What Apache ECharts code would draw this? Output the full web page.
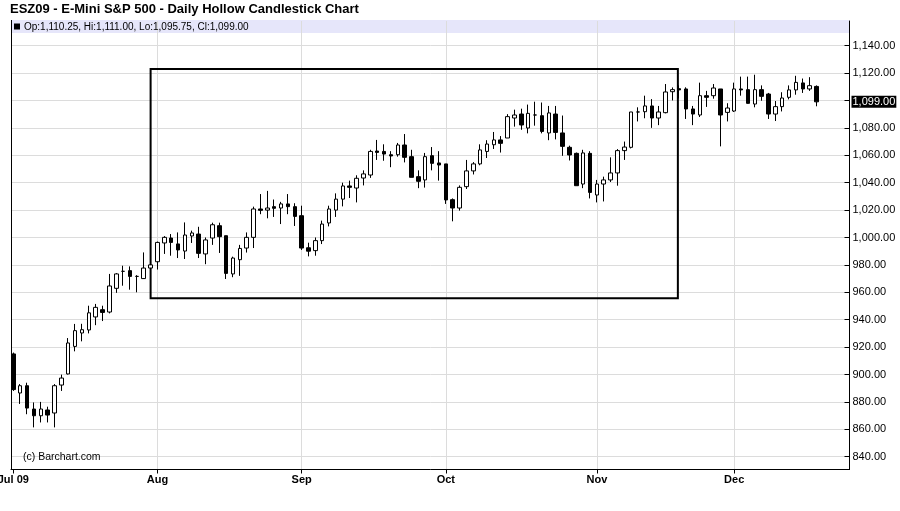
<!DOCTYPE html>
<html><head><meta charset="utf-8">
<script src="https://cdn.jsdelivr.net/npm/echarts@6/dist/echarts.min.js"></script>
<style>html,body{margin:0;padding:0;background:#fff}#c{width:900px;height:511px}</style>
</head><body><div id="c"></div>
<script>
const dates = [
 '07-02','07-06','07-07','07-08','07-09','07-10','07-13','07-14','07-15','07-16','07-17','07-20','07-21','07-22','07-23','07-24','07-27','07-28','07-29','07-30','07-31',
 '08-03','08-04','08-05','08-06','08-07','08-10','08-11','08-12','08-13','08-14','08-17','08-18','08-19','08-20','08-21','08-24','08-25','08-26','08-27','08-28','08-31',
 '09-01','09-02','09-03','09-04','09-08','09-09','09-10','09-11','09-14','09-15','09-16','09-17','09-18','09-21','09-22','09-23','09-24','09-25','09-28','09-29','09-30',
 '10-01','10-02','10-05','10-06','10-07','10-08','10-09','10-12','10-13','10-14','10-15','10-16','10-19','10-20','10-21','10-22','10-23','10-26','10-27','10-28','10-29','10-30',
 '11-02','11-03','11-04','11-05','11-06','11-09','11-10','11-11','11-12','11-13','11-16','11-17','11-18','11-19','11-20','11-23','11-24','11-25','11-27','11-30',
 '12-01','12-02','12-03','12-04','12-07','12-08','12-09','12-10','12-11','12-14','12-15','12-16','12-17'
];
const opens = [
 915,886.5,891.8,874.8,869.9,874.1,871.9,892.3,900.4,920.5,
 930.3,932.5,942,947.3,945.6,962.9,975.3,975.8,971.6,970,
 977.7,982.3,996,999.6,995.3,990.1,1001.1,1002.5,988,999.6,
 1008.6,1001.3,973.4,983.8,992.3,1000.1,1020.8,1020,1022.5,1021.5,
 1024.5,1022.5,1015.9,992.5,990.4,997.7,1010.6,1020,1028,1037.6,
 1036.1,1043.4,1045.6,1063.1,1062.8,1060.4,1060.4,1067.5,1059,1044.4,
 1042,1059.7,1054.4,1053.7,1027.6,1021.5,1037.1,1048.6,1053.7,1062.8,
 1067.7,1071.2,1072.6,1087.2,1090.1,1079.9,1089.4,1088.9,1076.3,1090.1,
 1076.3,1065.8,1061.4,1039,1061.4,1031,1039,1042,1047.1,1063.4,
 1065.8,1091.6,1091.8,1096,1087.2,1091.1,1106.4,1108.6,1108.4,1093.8,
 1089.4,1103.5,1103.5,1108.4,1091.3,1092.3,1108.4,1107.9,1097.4,1107.9,
 1104.7,1090.1,1095.5,1102.3,1107.7,1112.8,1108.4,1110.25
];
const closes = [
 889,891.8,875.5,869.9,874.8,870.4,891.8,897.4,923,932,
 932.7,945,949,945.3,964.6,973.4,975.3,971.6,971.6,977.7,
 980,996.4,1000.1,996.4,990.9,1001.8,1003.3,988.4,998.2,1009.3,
 1000.6,973.8,985,992,1000.1,1020.8,1019.8,1021.5,1021.3,1024.5,
 1022.5,1015.4,992.3,990,997.7,1009.8,1020.8,1028,1037.6,1036.6,
 1043.2,1046.4,1062.8,1062.1,1060.9,1059.5,1067.5,1058.5,1043.9,1041,
 1059,1054.1,1052.9,1027.4,1021.5,1036.6,1048.6,1053.7,1063.9,1068.2,
 1071.2,1068.7,1088.2,1089.4,1082.1,1090.6,1089.4,1077.4,1090.9,1076.7,
 1066.5,1060.2,1037.8,1061.7,1032.9,1039,1042,1047.1,1063.4,1066,
 1091.6,1091.6,1096,1087.2,1091.6,1106.2,1107.9,1107.7,1093.8,1090.1,
 1103.5,1102.3,1109.1,1089.4,1094.5,1108.4,1107.7,1097.9,1107.9,1103,
 1090.1,1095.5,1101.8,1107.7,1113.2,1108.4,1110.8,1099
];
const lows = [
 888,878.5,871,861.4,865,865,861.4,888,900,916.9,
 924.2,930,936,939,944.6,959.6,964.8,961.9,960,969.7,
 977,976.6,988,986.7,985,984.3,996,985,980.5,994.6,
 988.7,969.7,971,972,989,992.3,1017,1014,1015,1009.8,
 1017,1008.4,990.9,986.2,986.7,995.2,1008.1,1015,1022.7,1028.8,
 1025.6,1038,1043.5,1056.6,1056,1051.3,1059,1054.8,1043.9,1036,
 1036.4,1049,1041.5,1024.5,1011.8,1019.6,1035.4,1046,1052.7,1058,
 1064.6,1062,1072.6,1080.9,1078.6,1076,1081.6,1076,1071,1071.6,
 1059.6,1056.2,1037.8,1036,1028.5,1025.6,1026.3,1040.5,1037.8,1056.6,
 1065,1084.7,1087,1080,1082,1090.6,1100,1101.5,1086.5,1082,
 1087.9,1095.3,1101.3,1066.5,1084.7,1091.6,1103.5,1097.7,1095,1099.8,
 1086.5,1085,1092,1100.8,1104.2,1105.5,1107,1095.75
];
const highs = [
 916,893,894,879.6,880,876.5,893,899.9,926.6,936.9,
 937,950.2,951.5,950.2,973.4,974,979.4,978.9,972.5,989.1,
 980.5,997,1001,1002.5,1003.7,1011,1005,1007.8,1000,1010.8,
 1010.8,1001.3,986,994.6,1003.7,1022.5,1031.7,1034,1027.7,1026,
 1031.7,1025,1023.2,996.2,1000,1012.3,1023.2,1032.2,1040,1041.5,
 1045.4,1049,1064,1071.2,1068,1063,1069,1075.5,1064,1049,
 1061.7,1066,1063,1053.7,1028.5,1038,1056.6,1055,1068,1071,
 1077,1074,1090,1093.3,1094,1097,1099.1,1098.5,1096,1096,
 1089,1067,1062,1064,1063,1042,1044.4,1058.5,1064.5,1070,
 1091.6,1095,1103.5,1101,1096,1112,1109.5,1111,1109.6,1096,
 1113,1107,1112,1108.4,1098,1113,1117.4,1117.4,1118.8,1111,
 1105.5,1099.6,1106,1111,1118,1116,1117,1111
];
const yTicks = [840,860,880,900,920,940,960,980,1000,1020,1040,1060,1080,1100,1120,1140];
const monthLabels = {'07':'Jul 09','08':'Aug','09':'Sep','10':'Oct','11':'Nov','12':'Dec'};
const box = {x0: 20, x1: 96.8, y0: 955.6, y1: 1123};
const titleText = 'ESZ09 - E-Mini S&P 500 - Daily Hollow Candlestick Chart';
const creditText = '(c) Barchart.com';

function fmt(v){ return v.toFixed(2).replace(/\B(?=(\d{3})+(?!\d))/g, ','); }

const candleData = dates.map((d,i)=>[i, opens[i], closes[i], lows[i], highs[i]]);
const monthStarts = [];
dates.forEach((d,i)=>{ if(i===0 || d.slice(0,2)!==dates[i-1].slice(0,2)) monthStarts.push(i); });
const labelOf = {};
monthStarts.forEach(i=>{ labelOf[i] = monthLabels[dates[i].slice(0,2)]; });
const n = dates.length;
const lastO = opens[n-1], lastH = highs[n-1], lastL = lows[n-1], lastC = closes[n-1];
const yLabelVals = yTicks.filter(v => Math.abs(v - lastC) > 6);
const yMin = 830.66, yMax = 1158;
const FONT = '"Liberation Sans", Arial, sans-serif';

const chart = echarts.init(document.getElementById('c'), null, {renderer:'canvas'});
chart.setOption({
  animation: false,
  backgroundColor: '#fff',
  grid: {left: 11, right: 50.5, top: 21, bottom: 41.5, containLabel: false, outerBoundsMode: 'none'},
  xAxis: {
    type: 'value', min: -0.335, max: 121.8,
    axisLine: {show: true, onZero: false, lineStyle: {color: '#000', width: 1}},
    axisTick: {show: true, customValues: monthStarts, length: 4, lineStyle: {color: '#000'}},
    axisLabel: {customValues: monthStarts, formatter: v => labelOf[Math.round(v)] || '', color: '#000', fontWeight: 'bold', fontSize: 11, fontFamily: FONT, margin: 5, hideOverlap: false},
    splitLine: {show: true, lineStyle: {color: monthStarts.map((m,i)=> i===0 ? 'rgba(0,0,0,0)' : '#dcdcdc'), width: 1}}
  },
  yAxis: {
    type: 'value', position: 'right', min: yMin, max: yMax,
    axisLine: {show: true, onZero: false, lineStyle: {color: '#000', width: 1}},
    axisTick: {show: true, inside: true, length: 5, customValues: yTicks, lineStyle: {color: '#000'}},
    axisLabel: {customValues: yLabelVals, formatter: v => fmt(v), margin: 3, fontSize: 11, color: '#000', fontFamily: FONT},
    splitLine: {show: true, lineStyle: {color: '#dcdcdc', width: 1}}
  },
  series: [{
    type: 'candlestick',
    data: candleData,
    encode: {x: 0, y: [1,2,3,4]},
    barWidth: 4,
    clip: false,
    itemStyle: {color: '#fff', color0: '#000', borderColor: '#000', borderColor0: '#000', borderWidth: 1},
    markArea: {
      silent: true,
      itemStyle: {color: 'rgba(0,0,0,0)', borderColor: '#000', borderWidth: 2},
      data: [[{coord: [box.x0, box.y0]}, {coord: [box.x1, box.y1]}]]
    },
    markLine: {
      silent: true, symbol: 'none', animation: false,
      lineStyle: {color: 'rgba(0,0,0,0)', width: 1, type: 'solid'},
      label: {show: true, position: 'end', formatter: fmt(lastC), backgroundColor: '#000', color: '#fff', fontSize: 11, fontFamily: FONT, padding: [1,1,0,1], distance: 2},
      data: [{yAxis: lastC}]
    }
  }],
  graphic: [
    {type: 'rect', z: -10, shape: {x: 11, y: 20, width: 838.5, height: 13}, style: {fill: '#e6e6fa'}},
    {type: 'line', z: 10, shape: {x1: 11.5, y1: 20, x2: 11.5, y2: 469.5}, style: {stroke: '#000', lineWidth: 1}},
    {type: 'rect', z: 10, shape: {x: 14, y: 23.5, width: 6, height: 6}, style: {fill: '#000'}},
    {type: 'text', x: 24, y: 27, z: 10, style: {text: 'Op:' + fmt(lastO) + ', Hi:' + fmt(lastH) + ', Lo:' + fmt(lastL) + ', Cl:' + fmt(lastC), font: '10px ' + FONT, fill: '#000', textVerticalAlign: 'middle'}},
    {type: 'text', x: 10, y: 9, z: 10, style: {text: titleText, font: 'bold 13px ' + FONT, fill: '#000', textVerticalAlign: 'middle'}},
    {type: 'text', x: 23, y: 457, z: 10, style: {text: creditText, font: '10.5px ' + FONT, fill: '#000', textVerticalAlign: 'middle'}}
  ]
});
</script>
</body></html>
